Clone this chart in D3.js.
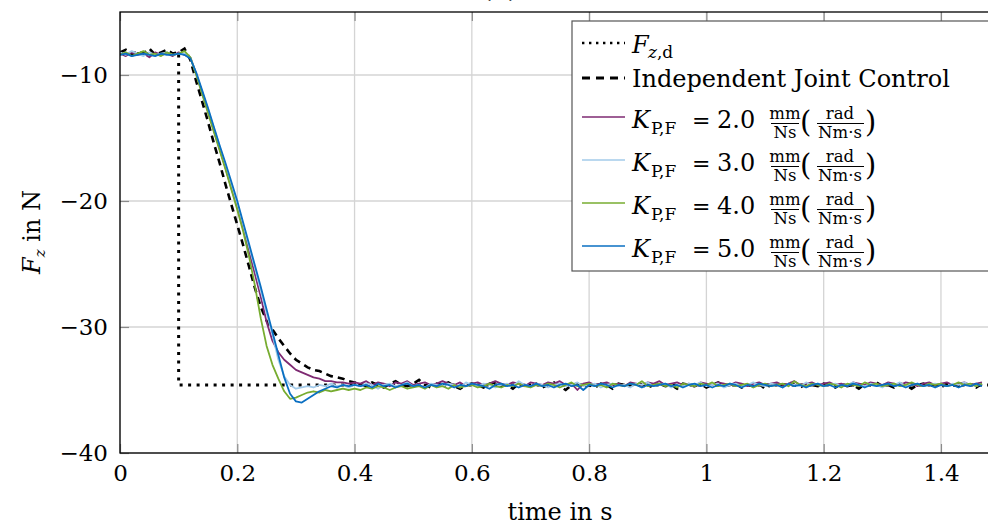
<!DOCTYPE html>
<html>
<head>
<meta charset="utf-8">
<script src="https://cdn.jsdelivr.net/npm/d3@7"></script>
<style>
body { margin: 0; background: #fff; }
svg { display: block; font-family: "DejaVu Serif", serif; }
</style>
</head>
<body>
<div id="chart"></div>
<script>
// sample times in s (10 ms grid)
var time = [0,0.01,0.02,0.03,0.04,0.05,0.06,0.07,0.08,0.09,
  0.10,0.11,0.12,0.13,0.14,0.15,0.16,0.17,0.18,0.19,
  0.20,0.21,0.22,0.23,0.24,0.25,0.26,0.27,0.28,0.29,
  0.30,0.31,0.32,0.33,0.34,0.35,0.36,0.37,0.38,0.39,
  0.40,0.41,0.42,0.43,0.44,0.45,0.46,0.47,0.48,0.49,
  0.50,0.51,0.52,0.53,0.54,0.55,0.56,0.57,0.58,0.59,
  0.60,0.61,0.62,0.63,0.64,0.65,0.66,0.67,0.68,0.69,
  0.70,0.71,0.72,0.73,0.74,0.75,0.76,0.77,0.78,0.79,
  0.80,0.81,0.82,0.83,0.84,0.85,0.86,0.87,0.88,0.89,
  0.90,0.91,0.92,0.93,0.94,0.95,0.96,0.97,0.98,0.99,
  1.00,1.01,1.02,1.03,1.04,1.05,1.06,1.07,1.08,1.09,
  1.10,1.11,1.12,1.13,1.14,1.15,1.16,1.17,1.18,1.19,
  1.20,1.21,1.22,1.23,1.24,1.25,1.26,1.27,1.28,1.29,
  1.30,1.31,1.32,1.33,1.34,1.35,1.36,1.37,1.38,1.39,
  1.40,1.41,1.42,1.43,1.44,1.45,1.46,1.47];

// desired force F_z,d
var fzdTime = [0, 0.1, 0.1, 1.5];
var fzdValues = [-8.3, -8.3, -34.6, -34.6];

// Independent Joint Control
var jicValues = [-8.2,-8.0,-8.4,-8.1,-8.3,-7.9,-8.4,-8.2,-8.0,-8.3,-8.2,-7.9,
  -8.8,-10.5,-12.1,-13.7,-15.4,-17.0,-18.7,-20.3,-21.9,-23.5,-25.2,-26.9,-28.4,-29.5,-30.2,-30.9,-31.5,-32.1,
  -32.6,-32.9,-33.2,-33.4,-33.5,-33.7,-33.9,-34.0,-34.1,-34.3,-34.4,
  -34.5,-34.7,-34.4,-34.6,-34.8,-34.5,-34.3,-34.6,-34.7,-34.5,
  -34.2,-34.6,-34.8,-34.5,-34.6,-34.4,-34.7,-34.9,-34.6,-34.5,
  -34.6,-34.8,-34.5,-34.4,-34.7,-34.6,-34.9,-34.5,-34.6,-34.7,
  -34.5,-34.8,-34.6,-34.4,-34.7,-35.0,-34.6,-34.5,-34.7,-34.6,
  -34.8,-34.5,-34.6,-34.9,-34.5,-34.6,-34.7,-34.4,-34.6,-34.8,
  -34.6,-34.5,-34.7,-34.6,-34.9,-34.5,-34.6,-34.7,-34.5,-34.8,
  -34.6,-34.4,-34.7,-34.6,-34.5,-34.8,-34.6,-34.7,-34.5,-34.9,
  -34.6,-34.5,-34.7,-34.4,-34.6,-34.8,-34.5,-34.6,-34.7,-34.5,
  -34.6,-34.8,-34.5,-34.7,-34.6,-34.9,-34.5,-34.6,-34.4,-34.7,
  -34.6,-34.8,-34.5,-34.6,-34.9,-34.6,-34.5,-34.7,-34.6,-34.8,
  -34.5,-34.6,-34.7,-34.5,-34.6,-34.8,-34.5];

// K_P,F = 2.0
var kp2Values = [-8.3,-8.5,-8.2,-8.4,-8.3,-8.6,-8.2,-8.4,-8.3,-8.5,-8.2,-8.4,
  -8.6,-9.9,-11.4,-12.9,-14.4,-15.9,-17.4,-19.0,-20.5,-22.2,-24.0,-25.8,-27.6,-29.6,-31.1,-32.0,-32.6,-33.0,
  -33.4,-33.6,-33.8,-34.0,-34.1,-34.3,-34.3,-34.4,-34.4,-34.5,-34.4,
  -34.5,-34.3,-34.6,-34.4,-34.5,-34.7,-34.4,-34.5,-34.3,-34.6,
  -34.5,-34.4,-34.6,-34.5,-34.3,-34.5,-34.6,-34.4,-34.7,-34.5,
  -34.4,-34.6,-34.5,-34.3,-34.5,-34.6,-34.4,-34.5,-34.7,-34.4,
  -34.5,-34.6,-34.4,-34.5,-34.3,-34.6,-34.5,-35.0,-34.5,-34.4,
  -34.6,-34.5,-34.4,-34.6,-34.5,-34.7,-34.4,-34.5,-34.6,-34.4,
  -34.5,-34.3,-34.6,-34.5,-34.4,-34.6,-34.5,-34.7,-34.4,-34.5,
  -34.6,-34.4,-34.5,-34.6,-34.4,-34.5,-34.7,-34.5,-34.4,-34.6,
  -34.5,-34.4,-34.6,-34.5,-34.3,-34.6,-34.5,-34.4,-34.6,-34.5,
  -34.4,-34.6,-34.5,-34.7,-34.4,-34.5,-34.6,-34.4,-34.5,-34.6,
  -34.4,-34.5,-34.6,-34.4,-34.5,-34.7,-34.5,-34.4,-34.6,-34.5,
  -34.4,-34.6,-34.5,-34.4,-34.6,-34.5,-34.4];

// K_P,F = 3.0
var kp3Values = [-8.2,-8.4,-8.1,-8.3,-8.5,-8.2,-8.4,-8.3,-8.2,-8.4,-8.3,-8.3,
  -8.6,-9.9,-11.3,-12.7,-14.2,-15.7,-17.2,-18.7,-20.2,-21.9,-23.6,-25.3,-27.1,-28.9,-30.6,-32.6,-33.9,-34.6,
  -34.9,-34.8,-34.7,-34.8,-34.6,-34.7,-34.5,-34.7,-34.6,-34.8,-34.6,
  -34.7,-34.5,-34.6,-34.9,-34.6,-34.5,-34.7,-34.6,-34.4,-34.7,
  -34.6,-34.8,-34.5,-34.6,-34.7,-34.5,-34.6,-34.8,-34.4,-34.6,
  -34.7,-34.5,-34.6,-34.8,-34.6,-34.5,-34.7,-34.3,-34.6,-34.7,
  -34.5,-34.6,-34.8,-34.6,-34.5,-34.7,-34.6,-34.4,-34.7,-34.6,
  -34.5,-34.8,-34.6,-34.5,-34.7,-34.6,-34.8,-34.5,-34.6,-34.4,
  -34.7,-34.6,-34.5,-34.8,-34.6,-34.7,-34.5,-34.6,-34.4,-34.7,
  -34.6,-34.5,-34.8,-34.6,-34.5,-34.7,-34.6,-34.4,-34.6,-34.7,
  -34.5,-34.6,-34.8,-34.5,-34.6,-34.7,-34.4,-34.6,-34.5,-34.7,
  -34.6,-34.5,-34.7,-34.6,-34.4,-34.6,-34.7,-34.5,-34.6,-34.8,
  -34.5,-34.6,-34.4,-34.7,-34.6,-34.5,-34.7,-34.6,-34.5,-34.6,
  -34.7,-34.5,-34.6,-34.4,-34.6,-34.7,-34.5];

// K_P,F = 4.0
var kp4Values = [-8.4,-8.2,-8.5,-8.3,-8.1,-8.4,-8.3,-8.5,-8.2,-8.4,-8.3,-8.1,
  -8.6,-10.0,-11.5,-13.0,-14.5,-16.0,-17.5,-19.1,-20.7,-22.4,-24.4,-26.7,-29.3,-31.5,-33.0,-34.1,-35.1,-35.7,
  -35.6,-35.4,-35.2,-35.1,-35.2,-35.0,-35.1,-35.0,-34.9,-35.0,-34.9,
  -35.0,-34.8,-34.9,-34.7,-34.8,-35.0,-34.8,-34.7,-34.9,-34.8,
  -34.7,-34.9,-34.6,-34.8,-34.7,-34.9,-34.6,-34.8,-34.7,-34.6,
  -34.8,-34.7,-34.5,-34.7,-34.8,-34.6,-34.7,-34.5,-34.7,-34.8,
  -34.6,-34.7,-34.5,-34.6,-34.8,-34.6,-34.4,-34.7,-34.6,-34.5,
  -34.7,-34.6,-34.8,-34.5,-34.6,-34.7,-34.5,-34.6,-34.3,-34.7,
  -34.6,-34.5,-34.7,-34.6,-34.8,-34.5,-34.6,-34.7,-34.5,-34.6,
  -34.4,-34.7,-34.6,-34.5,-34.7,-34.6,-34.5,-34.8,-34.6,-34.5,
  -34.7,-34.6,-34.5,-34.7,-34.3,-34.6,-34.7,-34.5,-34.6,-34.7,
  -34.5,-34.6,-34.8,-34.5,-34.6,-34.7,-34.4,-34.6,-34.5,-34.7,
  -34.6,-34.5,-34.7,-34.6,-34.4,-34.6,-34.7,-34.5,-34.6,-34.5,
  -34.7,-34.6,-34.4,-34.6,-34.5,-34.7,-34.5];

// K_P,F = 5.0
var kp5Values = [-8.4,-8.3,-8.5,-8.4,-8.3,-8.4,-8.5,-8.3,-8.4,-8.4,-8.3,-8.4,
  -8.7,-9.8,-11.2,-12.6,-14.1,-15.6,-17.0,-18.5,-20.0,-21.7,-23.4,-25.1,-26.8,-28.6,-30.4,-32.2,-34.0,-35.3,
  -35.9,-36.0,-35.7,-35.4,-35.1,-34.9,-34.7,-34.8,-34.6,-34.7,-34.6,
  -34.7,-34.6,-34.8,-34.5,-34.7,-34.6,-34.8,-34.6,-34.5,-34.7,
  -34.6,-34.8,-34.6,-34.7,-34.5,-34.6,-34.8,-34.6,-34.7,-34.5,
  -34.6,-34.7,-34.9,-34.6,-34.5,-34.7,-34.6,-34.8,-34.6,-34.7,
  -34.5,-34.7,-34.6,-34.8,-34.6,-34.5,-34.7,-34.6,-35.0,-34.6,
  -34.7,-34.5,-34.6,-34.8,-34.6,-34.7,-34.5,-34.6,-34.8,-34.6,
  -34.7,-34.6,-34.5,-34.7,-34.6,-34.8,-34.6,-34.5,-34.7,-34.6,
  -34.8,-34.6,-34.7,-34.5,-34.6,-34.8,-34.6,-34.7,-34.5,-34.6,
  -34.7,-34.6,-34.8,-34.5,-34.7,-34.6,-34.8,-34.6,-34.5,-34.7,
  -34.6,-34.8,-34.6,-34.7,-34.5,-34.6,-34.8,-34.6,-34.7,-34.6,
  -34.5,-34.7,-34.6,-34.8,-34.6,-34.5,-34.7,-34.6,-34.8,-34.6,
  -34.7,-34.6,-34.8,-34.6,-34.7,-34.5,-34.7];

var gainLabels = ["2.0", "3.0", "4.0", "5.0"];
var xTicks = [0, 0.2, 0.4, 0.6, 0.8, 1, 1.2, 1.4];
var yTicks = [-40, -30, -20, -10];

var gainColors = ["#7e2a72", "#a3cbea", "#77ac30", "#0a6fc2"];

var margin = {top: 12, left: 120},
    width = 879.6,
    height = 441;

var svg = d3.select("#chart")
            .append("svg")
                .attr("width", 988)
                .attr("height", 527);

var x = d3.scaleLinear().domain([0, 1.5]).range([0, width]);
var y = d3.scaleLinear().domain([-40, -5]).range([height, 0]);

// title, mostly above the window (as in the reference)
svg.append("text")
    .attr("x", 500).attr("y", -3)
    .attr("text-anchor", "middle")
    .style("font-size", "26px")
    .text("(a)");

var g = svg.append("g")
            .attr("transform", "translate(" + margin.left + "," + margin.top + ")");

g.append("clipPath").attr("id", "plotclip")
  .append("rect").attr("width", width).attr("height", height);

// grid
g.selectAll(".vgrid").data(xTicks).enter().append("line")
    .attr("x1", d => x(d)).attr("x2", d => x(d))
    .attr("y1", 0).attr("y2", height)
    .attr("stroke", "#d4d4d4").attr("stroke-width", 1.3);
g.selectAll(".hgrid").data(yTicks).enter().append("line")
    .attr("x1", 0).attr("x2", width)
    .attr("y1", d => y(d)).attr("y2", d => y(d))
    .attr("stroke", "#d4d4d4").attr("stroke-width", 1.3);

// axes with inward ticks
var xAxis = g.append("g").attr("transform", "translate(0," + height + ")")
    .call(d3.axisBottom(x).tickValues(xTicks).tickSizeInner(-9).tickSizeOuter(0)
          .tickPadding(12).tickFormat(d3.format("~g")));
var xTop = g.append("g")
    .call(d3.axisTop(x).tickValues(xTicks).tickSizeInner(-9).tickSizeOuter(0).tickFormat(""));
var yAxis = g.append("g")
    .call(d3.axisLeft(y).tickValues(yTicks).tickSizeInner(-9).tickSizeOuter(0)
          .tickPadding(12).tickFormat(d3.format("d")));

[xAxis, xTop, yAxis].forEach(function(a) {
    a.select(".domain").remove();
    a.selectAll(".tick line").attr("stroke", "#8a8a8a").attr("stroke-width", 1.2);
    a.selectAll("text").attr("fill", "#000").style("font-size", "23px")
        .style("font-family", "DejaVu Serif, serif");
});

var plot = g.append("g").attr("clip-path", "url(#plotclip)");

plot.append("path")
    .datum(fzdValues)
    .attr("fill", "none").attr("stroke", "#000")
    .attr("stroke-width", 3).attr("stroke-dasharray", "3,5.5")
    .attr("d", d3.line().x((d, i) => x(fzdTime[i])).y(d => y(d)));

var line = d3.line().x((d, i) => x(time[i])).y(d => y(d));

plot.append("path")
    .datum(jicValues)
    .attr("fill", "none").attr("stroke", "#000")
    .attr("stroke-width", 2.6).attr("stroke-dasharray", "7,5")
    .attr("d", line);

[kp2Values, kp3Values, kp4Values, kp5Values].forEach(function(vals, i) {
    plot.append("path")
        .datum(vals)
        .attr("fill", "none").attr("stroke", gainColors[i])
        .attr("stroke-width", 1.8).attr("stroke-linejoin", "round")
        .attr("d", line);
});

// frame
g.append("rect").attr("width", width).attr("height", height)
    .attr("fill", "none").attr("stroke", "#000").attr("stroke-width", 1.3);

// axis labels
svg.append("text")
    .attr("x", 560).attr("y", 520)
    .attr("text-anchor", "middle")
    .style("font-size", "24px")
    .text("time in s");

var ylab = svg.append("text")
    .attr("transform", "translate(40,232) rotate(-90)")
    .attr("text-anchor", "middle")
    .style("font-size", "24px");
ylab.append("tspan").style("font-style", "italic").text("F");
ylab.append("tspan").attr("dy", 5).style("font-style", "italic").style("font-size", "15px").text("z");
ylab.append("tspan").attr("dy", -5).text(" in N");

// legend
var lg = svg.append("g");
lg.append("rect")
    .attr("x", 572).attr("y", 21).attr("width", 440).attr("height", 250)
    .attr("fill", "#fff").attr("stroke", "#555").attr("stroke-width", 1.2);

lg.append("line").attr("x1", 582).attr("x2", 625).attr("y1", 43).attr("y2", 43)
    .attr("stroke", "#000").attr("stroke-width", 2.4).attr("stroke-dasharray", "2.4,4.6");
var t1 = lg.append("text").attr("x", 632).attr("y", 53).style("font-size", "24px");
t1.append("tspan").style("font-style", "italic").text("F");
t1.append("tspan").attr("x", 648).attr("dy", 5).style("font-size", "17px").style("font-style", "italic").text("z");
t1.append("tspan").style("font-size", "17px").text(",d");

lg.append("line").attr("x1", 582).attr("x2", 625).attr("y1", 78).attr("y2", 78)
    .attr("stroke", "#000").attr("stroke-width", 2.8).attr("stroke-dasharray", "8,6");
lg.append("text").attr("x", 632).attr("y", 87).style("font-size", "24px")
    .text("Independent Joint Control");

gainLabels.forEach(function(lbl, i) {
    var b = 128 + i * 43;
    lg.append("line").attr("x1", 582).attr("x2", 625).attr("y1", b - 11).attr("y2", b - 11)
        .attr("stroke", gainColors[i]).attr("stroke-width", 1.7);
    lg.append("text").attr("x", 632).attr("y", b).style("font-size", "24px")
        .style("font-style", "italic").text("K");
    lg.append("text").attr("x", 651).attr("y", b + 6).style("font-size", "17px").text("P,F");
    lg.append("text").attr("x", 692).attr("y", b).style("font-size", "22px").text("=");
    lg.append("text").attr("x", 717).attr("y", b).style("font-size", "24px").text(lbl);
    // mm / Ns
    lg.append("text").attr("x", 785).attr("y", b - 9).attr("text-anchor", "middle")
        .style("font-size", "16.5px").text("mm");
    lg.append("line").attr("x1", 771).attr("x2", 799).attr("y1", b - 4.5).attr("y2", b - 4.5)
        .attr("stroke", "#000").attr("stroke-width", 1);
    lg.append("text").attr("x", 785).attr("y", b + 10).attr("text-anchor", "middle")
        .style("font-size", "16.5px").text("Ns");
    lg.append("text").attr("x", 800).attr("y", b + 4).style("font-size", "29px").text("(");
    // rad / Nm·s
    lg.append("text").attr("x", 840).attr("y", b - 9).attr("text-anchor", "middle")
        .style("font-size", "16.5px").text("rad");
    lg.append("line").attr("x1", 817).attr("x2", 864).attr("y1", b - 4.5).attr("y2", b - 4.5)
        .attr("stroke", "#000").attr("stroke-width", 1);
    lg.append("text").attr("x", 840).attr("y", b + 10).attr("text-anchor", "middle")
        .style("font-size", "16.5px").text("Nm·s");
    lg.append("text").attr("x", 865).attr("y", b + 4).style("font-size", "29px").text(")");
});
</script>
</body>
</html>
